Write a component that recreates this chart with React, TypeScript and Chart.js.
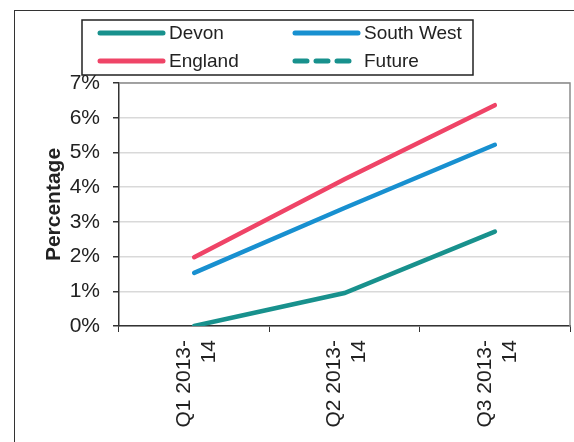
import React, { useEffect, useRef } from "react";
import { Chart, registerables } from "chart.js";

Chart.register(...registerables);

const categories: string[][] = [["Q1 2013-", "14"], ["Q2 2013-", "14"], ["Q3 2013-", "14"]];
const devon = [0, 0.95, 2.72];
const southWest = [1.53, 3.4, 5.22];
const england = [1.98, 4.23, 6.36];
const future: (number | null)[] = [null, null, null];
const yTicks = [0, 1, 2, 3, 4, 5, 6, 7];

const TEAL = "#18918d";
const BLUE = "#1890d0";
const PINK = "#ef4467";
const FONT = "'Liberation Sans', Arial, sans-serif";

const legendPlugin = {
  id: "boxLegend",
  afterDraw(chart: any) {
    const ctx = chart.ctx;
    ctx.save();
    ctx.strokeStyle = "#222";
    ctx.lineWidth = 1.5;
    ctx.strokeRect(82, 20, 391, 55);
    const items = chart.data.datasets;
    const pos = [
      [100, 33],
      [295, 33],
      [100, 61],
      [295, 61],
    ];
    items.forEach((ds: any, k: number) => {
      const [x, y] = pos[k];
      const dashed = ds.borderDash && ds.borderDash.length;
      ctx.beginPath();
      ctx.strokeStyle = ds.borderColor;
      ctx.lineWidth = 5;
      ctx.lineCap = "round";
      ctx.setLineDash(dashed ? [12, 9] : []);
      ctx.moveTo(x, y);
      ctx.lineTo(x + (dashed ? 54 : 63), y);
      ctx.stroke();
      ctx.setLineDash([]);
      ctx.fillStyle = "#222";
      ctx.font = `19px ${FONT}`;
      ctx.textBaseline = "middle";
      ctx.textAlign = "left";
      ctx.fillText(ds.label, x + 69, y + 1);
    });
    ctx.restore();
  },
};

const plotBorderPlugin = {
  id: "plotBorder",
  beforeDatasetsDraw(chart: any) {
    const { ctx, chartArea } = chart;
    ctx.save();
    ctx.strokeStyle = "#8c8c8c";
    ctx.lineWidth = 1.5;
    ctx.beginPath();
    ctx.moveTo(chartArea.left, chartArea.top);
    ctx.lineTo(chartArea.right, chartArea.top);
    ctx.lineTo(chartArea.right, chartArea.bottom);
    ctx.stroke();
    ctx.restore();
  },
};

export default function App() {
  const ref = useRef<HTMLCanvasElement | null>(null);
  useEffect(() => {
    if (!ref.current) return;
    const lineDs = (label: string, data: (number | null)[], color: string, dash: number[] = []) => ({
      label,
      data,
      borderColor: color,
      backgroundColor: color,
      borderWidth: 4.5,
      borderCapStyle: "round" as const,
      borderDash: dash,
      pointRadius: 0,
      tension: 0,
      fill: false,
    });
    const chart = new Chart(ref.current, {
      type: "line",
      data: {
        labels: categories,
        datasets: [
          lineDs("Devon", devon, TEAL),
          lineDs("South West", southWest, BLUE),
          lineDs("England", england, PINK),
          lineDs("Future", future, TEAL, [12, 9]),
        ],
      },
      options: {
        animation: false,
        responsive: false,
        devicePixelRatio: 1,
        layout: { padding: { left: 38, top: 83, right: 4, bottom: 0 } },
        plugins: { legend: { display: false }, tooltip: { enabled: false }, title: { display: false } },
        scales: {
          x: {
            type: "category",
            offset: true,
            grid: {
              offset: true,
              drawOnChartArea: false,
              drawTicks: true,
              tickLength: 6,
              color: "#333",
              lineWidth: 1,
            },
            border: { display: true, color: "#333", width: 1.5 },
            ticks: {
              maxRotation: 90,
              minRotation: 90,
              autoSkip: false,
              padding: 8,
              labelOffset: -10,
              color: "#222",
              font: { family: FONT, size: 21 },
            },
            afterFit(scale: any) {
              scale.height = 116;
            },
          },
          y: {
            min: 0,
            max: 7,
            afterBuildTicks(scale: any) {
              scale.ticks = yTicks.map((v) => ({ value: v }));
            },
            grid: {
              color: "#d9d9d9",
              lineWidth: 1.5,
              drawTicks: true,
              tickLength: 6,
              tickColor: "#333",
            },
            border: { display: true, color: "#333", width: 1.5 },
            ticks: {
              padding: 13,
              color: "#222",
              font: { family: FONT, size: 21 },
              callback: (v: any) => `${v}%`,
            },
            title: {
              display: true,
              text: "Percentage",
              color: "#222",
              font: { family: FONT, size: 21, weight: "bold" },
              padding: 4,
            },
            afterFit(scale: any) {
              scale.width = 81;
            },
          },
        },
      },
      plugins: [plotBorderPlugin, legendPlugin],
    });
    return () => chart.destroy();
  }, []);

  return (
    <div style={{ position: "fixed", left: 0, top: 0, width: 574, height: 442, background: "#fff", overflow: "hidden" }}>
      <div
        style={{
          position: "absolute",
          left: 14,
          top: 10,
          width: 600,
          height: 500,
          borderLeft: "1.5px solid #333",
          borderTop: "1.5px solid #333",
          boxSizing: "border-box",
        }}
      />
      <canvas ref={ref} width={574} height={442} style={{ position: "absolute", left: 0, top: 0, display: "block" }} />
    </div>
  );
}
